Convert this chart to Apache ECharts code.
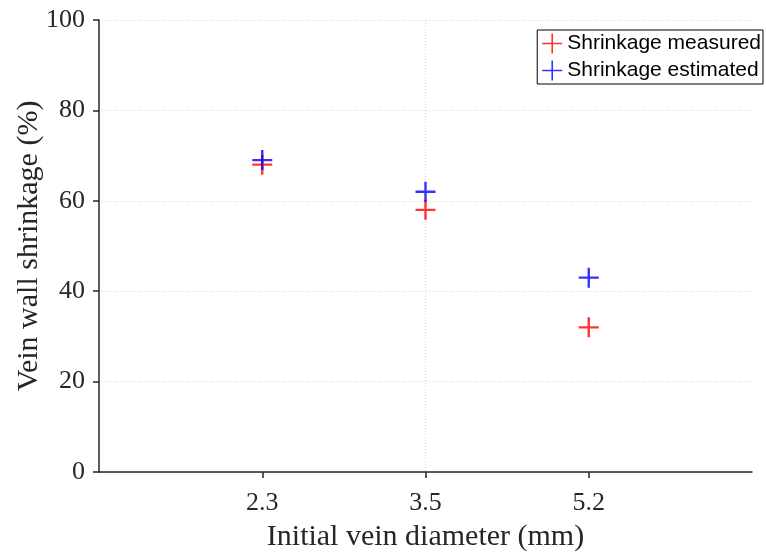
<!DOCTYPE html>
<html>
<head>
<meta charset="utf-8">
<script src="https://cdn.jsdelivr.net/npm/echarts@6/dist/echarts.min.js"></script>
<style>
  html, body { margin: 0; padding: 0; background: #fff; }
  #chart { width: 766px; height: 552px; }
</style>
</head>
<body>
<div id="chart"></div>
<script>
// Initial vein diameters (mm), one slot per position on the x axis
const categories = ['2.3', '3.5', '5.2'];
// Vein wall shrinkage (%)
const measured = [68, 58, 32];
const estimated = [69, 62, 43];
const yTicks = [0, 20, 40, 60, 80, 100];

const serif = '"Liberation Serif", "Times New Roman", serif';
const sans = '"Liberation Sans", Arial, sans-serif';
// "+" markers: a bolder one for the data, a thinner one for the legend keys
const plusMark = 'path://M8.8,0H11.2V8.8H20V11.2H11.2V20H8.8V11.2H0V8.8H8.8Z';
const plusKey = 'path://M9.2,0H10.8V9.2H20V10.8H10.8V20H9.2V10.8H0V9.2H9.2Z';

const toPoints = vals => vals.map((v, i) => [i + 1, v]);
const slots = categories.map((c, i) => i + 1);

const chart = echarts.init(document.getElementById('chart'), null, { renderer: 'canvas' });
chart.setOption({
  animation: false,
  backgroundColor: '#fff',
  grid: { left: 99, right: 14, top: 20, bottom: 80, containLabel: false, outerBoundsMode: 'none' },
  legend: {
    right: 3,
    top: 30,
    orient: 'vertical',
    itemWidth: 20,
    itemHeight: 20,
    itemGap: 6,
    padding: [3, 2, 3, 5],
    borderColor: '#000',
    borderWidth: 1,
    borderRadius: 0,
    backgroundColor: '#fff',
    textStyle: { fontFamily: sans, fontSize: 21, color: '#000' },
    data: [
      { name: 'Shrinkage measured', icon: plusKey },
      { name: 'Shrinkage estimated', icon: plusKey }
    ]
  },
  xAxis: {
    type: 'value',
    min: 0,
    max: categories.length + 1,
    interval: 1,
    name: 'Initial vein diameter (mm)',
    nameLocation: 'middle',
    nameGap: 50,
    nameMoveOverlap: false,
    nameTextStyle: { fontFamily: serif, fontSize: 30, color: '#262626' },
    axisLine: { show: true, lineStyle: { color: '#262626', width: 1.5 } },
    axisTick: { show: true, inside: false, length: 6, lineStyle: { color: '#262626', width: 1.5 },
      customValues: slots },
    axisLabel: {
      fontFamily: serif, fontSize: 26, color: '#262626', margin: 18,
      customValues: slots,
      formatter: v => categories[v - 1] || ''
    },
    splitLine: { show: true, showMinLine: false, showMaxLine: false,
      lineStyle: { color: '#d6d6d6', type: [1, 2], width: 1 } }
  },
  yAxis: {
    type: 'value',
    min: yTicks[0],
    max: yTicks[yTicks.length - 1],
    interval: 20,
    name: 'Vein wall shrinkage (%)',
    nameLocation: 'middle',
    nameGap: 55,
    nameMoveOverlap: false,
    nameTextStyle: { fontFamily: serif, fontSize: 30, color: '#262626' },
    axisLine: { show: true, lineStyle: { color: '#262626', width: 1.5 } },
    axisTick: { show: true, inside: false, length: 6, lineStyle: { color: '#262626', width: 1.5 } },
    axisLabel: { fontFamily: serif, fontSize: 26, color: '#262626', margin: 14 },
    splitLine: { show: true, lineStyle: { color: '#d6d6d6', type: [1, 2], width: 1 } }
  },
  series: [
    {
      name: 'Shrinkage measured',
      type: 'scatter',
      symbol: plusMark,
      symbolSize: 20,
      itemStyle: { color: '#ff0000' },
      data: toPoints(measured),
      z: 3
    },
    {
      name: 'Shrinkage estimated',
      type: 'scatter',
      symbol: plusMark,
      symbolSize: 20,
      itemStyle: { color: '#0000ff' },
      data: toPoints(estimated),
      z: 4
    }
  ]
});
</script>
</body>
</html>
